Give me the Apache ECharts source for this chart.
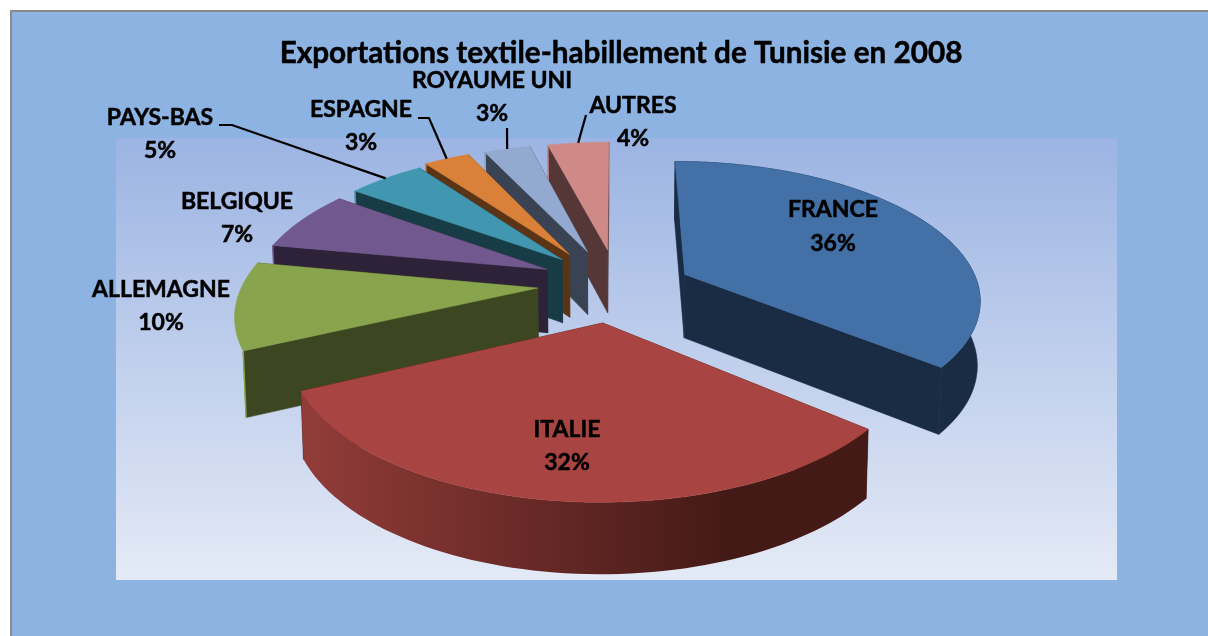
<!DOCTYPE html>
<html><head><meta charset="utf-8">
<style>html,body{margin:0;padding:0;background:#fff}#c{width:1208px;height:636px}</style>
<script src="https://cdn.jsdelivr.net/npm/echarts@6/dist/echarts.min.js"></script>
</head><body><div id="c"></div>
<script>
const titleText = 'Exportations textile-habillement de Tunisie en 2008';
const categories = ['FRANCE','ITALIE','ALLEMAGNE','BELGIQUE','PAYS-BAS','ESPAGNE','ROYAUME UNI','AUTRES'];
const shares = [36,32,10,7,5,3,3,4];
const topColors = ['#4371a7','#a84441','#88a44d','#71588f','#4097af','#d98138','#93a9cf','#cf8a88'];
const wallColors = ['#1a2c44','#4a1b18','#3c4621','#2d2238','#183c46','#5b3416','#3a4353','#543736'];
// label centres (two lines: name, percentage)
const nameAnchors = [[833,210],[567,430],[161,290],[237,202],[160,118],[361,110],[492,81],[633,106]];
const pctAnchors  = [[833,244],[567,463],[161,323],[237,235],[160,151],[361,143],[492,114],[633,139]];
// leader starts per slice (null = none); the far end is the slice's rim mid-point
const leaderStarts = [null,null,null,null,[[219,125],[232,125]],[[418,118],[429,118]],[[507,128]],[[586,115]]];
// small per-slice drift of the exploded slices, in pixels
const sliceDrift = [[2,5],[0,1],[3,-1],[5,-1],[3,0],[-5,0],[0,0],[4,0]];
// which slices show their rim wall (the others show only the radial wall)
const showsRim = [true,true,false,false,false,false,false,false];

const pie = {cx:613, cy:284.5, A:295, B:136, p:0.164, explode:0.266, depth:64, shrink:0.008};
function project(X, Y, z, drift) {
  const s = 1 / (1 - pie.p * Y);
  const k = 1 - pie.shrink * z;
  return [pie.cx + pie.A * X * s * k + drift[0], pie.cy + pie.B * Y * s + pie.depth * Math.sqrt(s) * z + drift[1]];
}
const total = shares.reduce((a,b)=>a+b,0);
let acc = 0;
const slices = shares.map((v,i)=>{
  const a0 = acc/total*2*Math.PI; acc += v; const a1 = acc/total*2*Math.PI;
  return {a0,a1,mid:(a0+a1)/2};
});
// painter's order: farthest slice first
const order = slices.map((s,i)=>[-Math.cos(s.mid),i]).sort((a,b)=>a[0]-b[0]).map(x=>x[1]);
const rank = []; order.forEach((idx,r)=>{rank[idx]=r;});

function arcPts(sl, z, drift) {
  const ox = Math.sin(sl.mid)*pie.explode, oy = -Math.cos(sl.mid)*pie.explode;
  const n = Math.max(6, Math.ceil((sl.a1-sl.a0)/0.03));
  const pts = [];
  for (let j=0;j<=n;j++){
    const t = sl.a0+(sl.a1-sl.a0)*j/n;
    pts.push(project(ox+Math.sin(t), oy-Math.cos(t), z, drift));
  }
  return {pts, apex:project(ox,oy,z,drift)};
}
function renderItem(params, api) {
  const i = api.value(0);
  const sl = slices[i], z0 = rank[i]*10, drift = sliceDrift[i];
  const top = arcPts(sl,0,drift), bot = arcPts(sl,1,drift);
  const ch = [];
  const wall = wallColors[i];
  const line = {stroke:wall, lineWidth:0.6};
  // radial walls
  ch.push({type:'polygon',z2:z0,shape:{points:[top.apex,top.pts[0],bot.pts[0],bot.apex]},style:{fill:wall,...line}});
  const L = top.pts.length-1;
  ch.push({type:'polygon',z2:z0,shape:{points:[top.apex,top.pts[L],bot.pts[L],bot.apex]},style:{fill:wall,...line}});
  // rim wall; the large front slice is lit from the left
  if (showsRim[i]) {
    const fill = i===1 ? new echarts.graphic.LinearGradient(0,0,1,0,[
        {offset:0,color:'#923c39'},{offset:0.75,color:'#441a17'},{offset:1,color:'#441a17'}]) : wall;
    ch.push({type:'polygon',z2:z0+1,shape:{points:[...top.pts,...bot.pts.slice().reverse()]},
        style:{fill,stroke:i===1?null:wall,lineWidth:0.6}});
  } else {
    // thin lit edge where the rim meets the outer corner
    ch.push({type:'polyline',z2:z0+1,shape:{points:[top.pts[0],bot.pts[0]]},style:{fill:null,stroke:topColors[i],lineWidth:1.5}});
  }
  // top face
  ch.push({type:'polygon',z2:z0+2,shape:{points:[top.apex,...top.pts]},style:{fill:topColors[i],stroke:topColors[i],lineWidth:0.5}});
  // leader
  if (leaderStarts[i]) {
    const t = sl.mid, ox=Math.sin(t)*pie.explode, oy=-Math.cos(t)*pie.explode;
    const end = project(ox+Math.sin(t), oy-Math.cos(t), 0, drift);
    ch.push({type:'polyline',z2:200,shape:{points:[...leaderStarts[i],end]},style:{fill:null,stroke:'#000',lineWidth:2.2}});
  }
  // labels
  const font = 'bold 23px Lato, "Open Sans", sans-serif';
  const txt = {font,fill:'#000',align:'center',verticalAlign:'middle',stroke:'#000',lineWidth:0.5};
  ch.push({type:'text',z2:210,style:{x:nameAnchors[i][0],y:nameAnchors[i][1],text:categories[i],...txt}});
  ch.push({type:'text',z2:210,style:{x:pctAnchors[i][0],y:pctAnchors[i][1],text:api.value(1)+'%',...txt}});
  return {type:'group',children:ch};
}
const chart = echarts.init(document.getElementById('c'),null,{renderer:'canvas'});
chart.setOption({
  animation:false,
  backgroundColor:'#ffffff',
  graphic:[
    {type:'rect',z:-10,shape:{x:10,y:10,width:1198,height:626},style:{fill:'#8a8a8a'}},
    {type:'rect',z:-9,shape:{x:12,y:12,width:1196,height:624},style:{fill:'#8db3e2'}},
    {type:'rect',z:-8,shape:{x:116,y:138,width:1001,height:442},style:{fill:new echarts.graphic.LinearGradient(0,0,0,1,[
      {offset:0,color:'#9cb4e3'},{offset:1,color:'#e4eaf6'}])}}
  ],
  title:{text:titleText,left:616,top:33,textAlign:'center',
    textStyle:{fontFamily:'Lato, "Open Sans", sans-serif',fontWeight:'bold',fontSize:29.7,color:'#000',textBorderColor:'#000',textBorderWidth:0.5}},
  series:[{type:'custom',coordinateSystem:'none',renderItem,
    data:shares.map((v,i)=>[i,v]),encode:{value:1},silent:true,clip:false}]
});
</script></body></html>
